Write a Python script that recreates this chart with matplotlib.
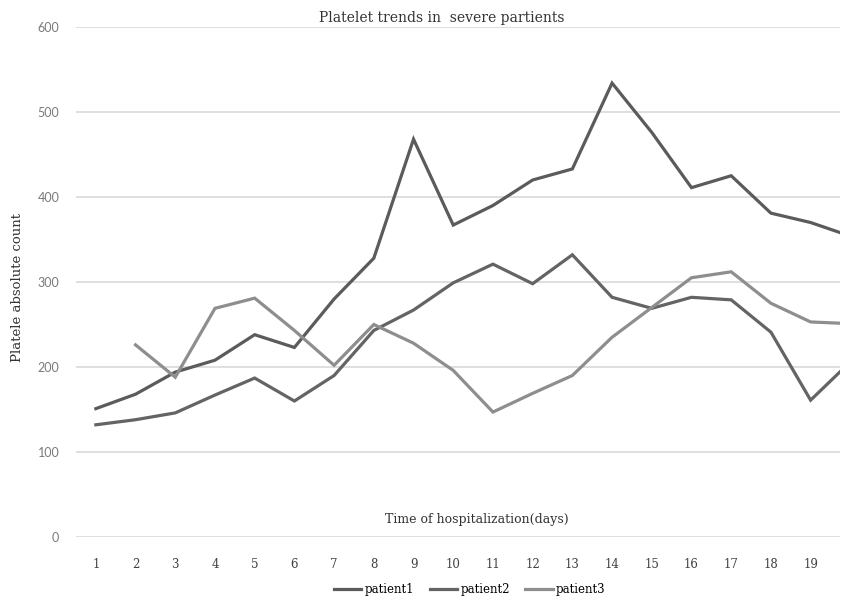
import numpy as np
import matplotlib
matplotlib.use("Agg")
import matplotlib.pyplot as plt

# Daily platelet counts for three severe patients
days = list(range(1, 21))
patient1 = [151, 168, 194, 208, 238, 223, 280, 328, 468, 367,
            390, 420, 433, 534, 476, 411, 425, 381, 370, 354]
patient2 = [132, 138, 146, 167, 187, 160, 190, 243, 267, 299,
            321, 298, 332, 282, 269, 282, 279, 241, 161, 206]
patient3 = [np.nan, 226, 188, 269, 281, 243, 202, 250, 228, 196,
            147, 169, 190, 235, 270, 305, 312, 275, 253, 251]
series_names = ["patient1", "patient2", "patient3"]
y_ticks = [0, 100, 200, 300, 400, 500, 600]

W, H = 845, 604
fig = plt.figure(figsize=(W / 100, H / 100), dpi=100)
ax = fig.add_axes([76 / W, 67 / H, 764 / W, 510 / H])

serif = "DejaVu Serif"
colors = ["#5b5b5b", "#646464", "#8e8e8e"]
for vals, name, c in zip([patient1, patient2, patient3], series_names, colors):
    ax.plot(days, vals, color=c, lw=2.3, label=name, solid_joinstyle="miter",
            clip_on=True)

ax.set_xlim(0.5, 19.74)
ax.set_ylim(0, 600)
ax.set_yticks(y_ticks)
ax.set_xticks(days[:19])
ax.set_xticklabels([str(d) for d in days[:19]], family=serif, fontsize=8.5,
                   color="#404040")
ax.set_yticklabels([str(v) for v in y_ticks], family="Lato", fontsize=9,
                   color="#7a7a7a")
ax.tick_params(axis="y", length=0, pad=12)
ax.tick_params(axis="x", length=0, pad=15)
for s in ax.spines.values():
    s.set_visible(False)
ax.grid(axis="y", color="#d9d9d9", lw=1.2)
ax.set_axisbelow(True)

fig.text(442 / W, 1 - 18 / H, "Platelet trends in  severe partients",
         ha="center", va="center", family=serif, fontsize=10, color="#333333")
fig.text(477 / W, 1 - 520 / H, "Time of hospitalization(days)",
         ha="center", va="center", family=serif, fontsize=9, color="#333333")
fig.text(18 / W, 1 - 287 / H, "Platele absolute count", rotation=90,
         ha="center", va="center", family=serif, fontsize=9.5, color="#333333")

fig.legend(loc="center", bbox_to_anchor=(470 / W, 1 - 590 / H), ncol=3,
           frameon=False, handlelength=2.3, handletextpad=0.3,
           columnspacing=1.3, prop={"family": serif, "size": 8.5})

fig.savefig("out.png", dpi=100, facecolor="white")
